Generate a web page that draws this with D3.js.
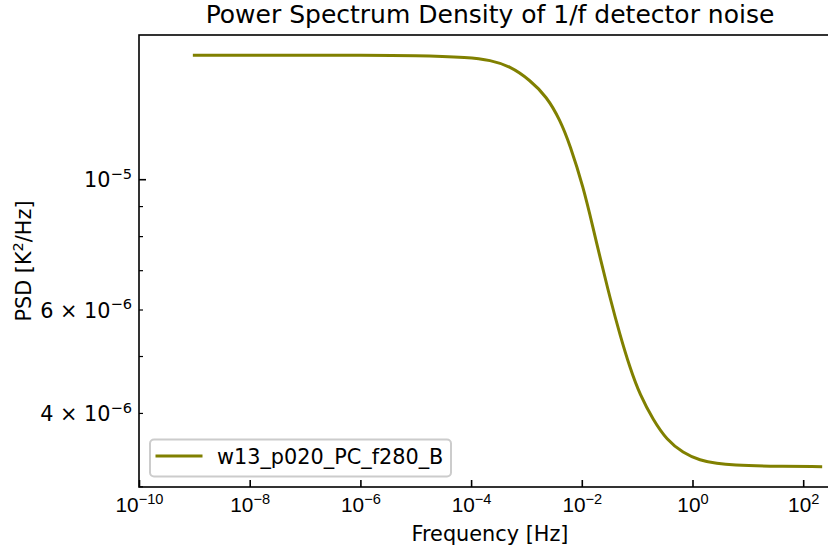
<!DOCTYPE html>
<html>
<head>
<meta charset="utf-8">
<script src="https://cdn.jsdelivr.net/npm/d3@7"></script>
<style>
  html, body { margin: 0; padding: 0; background: #fff; }
  svg { display: block; font-family: "DejaVu Sans", sans-serif; }
</style>
</head>
<body>
<svg id="chart" width="828" height="550"></svg>
<script>
// ---- data ----
const freq = [1e-9, 1e-8, 1e-7, 1e-6, 1e-5, 9.55e-5, 2.19e-4, 5.04e-4, 1.16e-3, 2.32e-3,
              4.04e-3, 6.12e-3, 1.064e-2, 1.614e-2, 2.13e-2, 3.23e-2, 4.90e-2, 7.43e-2,
              0.1125, 0.196, 0.342, 0.673, 1.37, 2.77, 5.40, 22.2, 207];
const psd  = [1.626e-5, 1.626e-5, 1.626e-5, 1.626e-5, 1.625e-5, 1.612e-5, 1.595e-5, 1.558e-5,
              1.475e-5, 1.382e-5, 1.262e-5, 1.144e-5, 9.70e-6, 8.23e-6, 7.37e-6, 6.28e-6,
              5.43e-6, 4.77e-6, 4.29e-6, 3.89e-6, 3.60e-6, 3.42e-6, 3.32e-6, 3.28e-6,
              3.26e-6, 3.245e-6, 3.24e-6];
const seriesName = "w13_p020_PC_f280_B";

const xDomain = [1e-10, 482];
const yDomain = [2.992e-6, 1.760e-5];
const xTickValues = [1e-10, 1e-8, 1e-6, 1e-4, 1e-2, 1e0, 1e2];
const xTickExps   = ["\u221210", "\u22128", "\u22126", "\u22124", "\u22122", "0", "2"];
const yMajorTicks = [1e-5];
const yMinorTicks = [3e-6, 4e-6, 5e-6, 6e-6, 7e-6, 8e-6, 9e-6];
const yLabelValues = [1e-5, 6e-6, 4e-6];
const yLabelMants  = ["", "6 \u00d7 ", "4 \u00d7 "];
const yLabelExps   = ["\u22125", "\u22126", "\u22126"];

const titleText = "Power Spectrum Density of 1/f detector noise";
const xLabelText = "Frequency [Hz]";
const lineColor = "#808000";

// ---- layout ----
const L = 139, R = 841, T = 35, B = 487;
const FS = 20.8, SUP = 14.6;
const svg = d3.select("#chart");

const x = d3.scaleLog().domain(xDomain).range([L, R]);
const y = d3.scaleLog().domain(yDomain).range([B, T]);

// line
const pts = freq.map((f, i) => [f, psd[i]]);
const line = d3.line().x(d => x(d[0])).y(d => y(d[1])).curve(d3.curveBasis);
svg.append("path")
  .datum(pts)
  .attr("d", line)
  .attr("fill", "none")
  .attr("stroke", lineColor)
  .attr("stroke-width", 3)
  .attr("stroke-linecap", "square")
  .attr("stroke-linejoin", "round");

// x axis ticks (inward)
const xAxis = d3.axisBottom(x).tickValues(xTickValues).tickSize(-7).tickFormat("");
const gx = svg.append("g").attr("transform", `translate(0,${B})`).call(xAxis);
gx.select(".domain").remove();
gx.selectAll(".tick line").attr("stroke", "#000").attr("stroke-width", 1.6);
gx.selectAll(".tick").each(function(d, i) {
  const t = d3.select(this).append("text")
    .attr("x", 0).attr("y", 25)
    .attr("text-anchor", "middle")
    .attr("fill", "#000")
    .attr("font-size", FS);
  t.append("tspan").text("10");
  t.append("tspan").attr("dy", -8.3).attr("font-size", SUP).text(xTickExps[i]);
});

// y axis ticks
const yMajor = d3.axisLeft(y).tickValues(yMajorTicks).tickSize(-7).tickFormat("");
const gyM = svg.append("g").attr("transform", `translate(${L},0)`).call(yMajor);
gyM.select(".domain").remove();
gyM.selectAll(".tick line").attr("stroke", "#000").attr("stroke-width", 1.6);

const yMinor = d3.axisLeft(y).tickValues(yMinorTicks).tickSize(-4).tickFormat("");
const gym = svg.append("g").attr("transform", `translate(${L},0)`).call(yMinor);
gym.select(".domain").remove();
gym.selectAll(".tick line").attr("stroke", "#000").attr("stroke-width", 1.2);

// y tick labels
yLabelValues.forEach((v, i) => {
  const t = svg.append("text")
    .attr("x", L - 7).attr("y", y(v) + 8)
    .attr("text-anchor", "end")
    .attr("fill", "#000")
    .attr("font-size", FS);
  t.append("tspan").text(yLabelMants[i] + "10");
  t.append("tspan").attr("dy", -8.3).attr("font-size", SUP).text(yLabelExps[i]);
});

// spines
svg.append("rect")
  .attr("x", L).attr("y", T)
  .attr("width", R - L).attr("height", B - T)
  .attr("fill", "none")
  .attr("stroke", "#000")
  .attr("stroke-width", 1.6);

// title
svg.append("text")
  .attr("x", (L + R) / 2).attr("y", 23)
  .attr("text-anchor", "middle")
  .attr("font-size", 25)
  .attr("fill", "#000")
  .text(titleText);

// x label
svg.append("text")
  .attr("x", (L + R) / 2).attr("y", 541)
  .attr("text-anchor", "middle")
  .attr("font-size", FS)
  .attr("fill", "#000")
  .text(xLabelText);

// y label
const yl = svg.append("text")
  .attr("transform", `translate(31,${(T + B) / 2}) rotate(-90)`)
  .attr("text-anchor", "middle")
  .attr("font-size", FS)
  .attr("fill", "#000");
yl.append("tspan").text("PSD [K");
yl.append("tspan").attr("dy", -8.3).attr("font-size", SUP).text("2");
yl.append("tspan").attr("dy", 8.3).text("/Hz]");

// legend
const lg = svg.append("g");
lg.append("rect")
  .attr("x", 150).attr("y", 439.5)
  .attr("width", 301).attr("height", 37)
  .attr("rx", 4).attr("ry", 4)
  .attr("fill", "#fff").attr("fill-opacity", 0.8)
  .attr("stroke", "#cccccc").attr("stroke-width", 2);
lg.append("line")
  .attr("x1", 157).attr("x2", 201)
  .attr("y1", 456).attr("y2", 456)
  .attr("stroke", lineColor).attr("stroke-width", 3)
  .attr("stroke-linecap", "square");
lg.append("text")
  .attr("x", 217).attr("y", 463.5)
  .attr("font-size", FS)
  .attr("fill", "#000")
  .text(seriesName);
</script>
</body>
</html>
